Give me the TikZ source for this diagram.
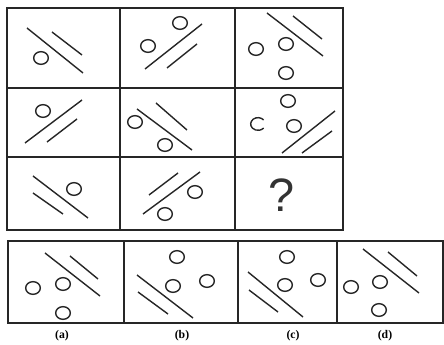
\documentclass[tikz,border=0pt]{standalone}
\usepackage{fontspec}
\newfontfamily\qfont{Liberation Sans}
\newfontfamily\lblfont{Liberation Serif}
\usetikzlibrary{positioning}
\tikzset{
  gridline/.style={draw=black!85, line width=1.5pt},
  slash/.style={draw=black!85, line width=1.2pt},
  ring/.style={draw=black!85, line width=1.2pt},
  optlabel/.style={font=\lblfont\bfseries\normalsize, inner sep=1pt},
}
\newcommand{\ring}[1]{\draw[ring] #1 ellipse[x radius=0.22cm, y radius=0.19cm];}

\begin{document}
\begin{tikzpicture}[x=0.03cm, y=-0.03cm]
\useasboundingbox (0,0) rectangle (444,345);
% question grid
\draw[gridline] (7,8) rectangle (343,230);
\draw[gridline] (120,8) -- (120,230) (235,8) -- (235,230);
\draw[gridline] (7,88) -- (343,88) (7,157) -- (343,157);
% row 1
\draw[slash] (27,28) -- (83,73) (52,32) -- (82,55);
\ring{(41,58)}
\draw[slash] (145,69) -- (202,24) (167,68) -- (197,44);
\ring{(180,23)} \ring{(148,46)}
\draw[slash] (267,13) -- (323,56) (293,16) -- (322,39);
\ring{(256,49)} \ring{(286,44)} \ring{(286,73)}
% row 2
\draw[slash] (25,143) -- (82,100) (47,142) -- (77,119);
\ring{(43,111)}
\draw[slash] (137,109) -- (192,150) (156,103) -- (187,130);
\ring{(135,122)} \ring{(165,145)}
\draw[slash] (282,153) -- (335,111) (302,153) -- (332,131);
\ring{(288,101)} \ring{(294,126)}
\draw[ring] (258,124) ++(40:0.22cm and 0.19cm) arc[start angle=40, end angle=320, x radius=0.22cm, y radius=0.19cm];
% row 3
\draw[slash] (33,176) -- (88,218) (33,193) -- (63,214);
\ring{(74,189)}
\draw[slash] (143,214) -- (200,172) (149,195) -- (178,173);
\ring{(195,192)} \ring{(165,214)}
\node[font=\qfont\fontsize{40}{40}\selectfont, text=black!80] (q) at (282,195) {?};
% options
\draw[gridline] (8,241) rectangle (443,323);
\draw[gridline] (124,241) -- (124,323) (238,241) -- (238,323) (337,241) -- (337,323);
\draw[slash] (45,253) -- (100,296) (70,256) -- (98,279);
\ring{(33,288)} \ring{(63,284)} \ring{(63,313)}
\draw[slash] (137,275) -- (193,318) (138,292) -- (168,314);
\ring{(177,257)} \ring{(173,286)} \ring{(207,281)}
\draw[slash] (248,272) -- (303,317) (249,290) -- (278,312);
\ring{(287,257)} \ring{(285,285)} \ring{(318,280)}
\draw[slash] (363,249) -- (419,293) (388,252) -- (417,276);
\ring{(351,287)} \ring{(380,282)} \ring{(379,310)}
\node[optlabel] (la) at (62,336) {(a)};
\node[optlabel] (lb) at (182,336) {(b)};
\node[optlabel] (lc) at (293,336) {(c)};
\node[optlabel] (ld) at (385,336) {(d)};
\end{tikzpicture}
\end{document}
